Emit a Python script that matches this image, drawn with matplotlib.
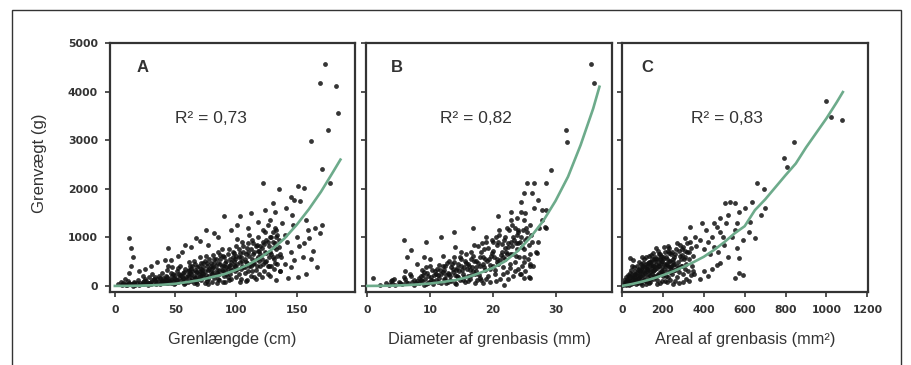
import numpy as np
import matplotlib.pyplot as plt
from matplotlib.patches import Rectangle

plt.rcParams['font.family'] = ['Liberation Sans', 'DejaVu Sans']

y_ticks = [0, 1000, 2000, 3000, 4000, 5000]

# A - grenlaengde (cm)
a_ticks = [0, 50, 100, 150]
a_fit_x = [0, 10, 20, 30, 40, 50, 60, 70, 80, 90, 100, 110, 120, 130, 140, 150, 160, 170, 180, 186]
a_fit_y = [0, 1, 5, 12, 25, 45, 80, 120, 180, 240, 330, 440, 580, 760, 980, 1260, 1580, 1940, 2350, 2600]
a_points = [
    (173, 4570), (169, 4170), (182, 4120), (184, 3560), (176, 3200), (162, 2980),
    (122, 2110), (135, 2000), (145, 1840), (148, 1760), (153, 1740), (151, 2060), (156, 2020),
    (177, 2120), (171, 2400), (169, 1090), (171, 1250), (167, 390), (159, 1150), (156, 885),
    (148, 535), (151, 185), (143, 165), (112, 1500), (124, 1560), (132, 1520), (90, 1430),
    (103, 1430), (101, 1255), (12, 980), (13, 775), (15, 605), (13, 400), (12, 260),
    (44, 780), (41, 535), (46, 535), (67, 990), (63, 800), (77, 845), (82, 1090),
    (138, 1300), (140, 1050), (142, 900), (145, 700), (147, 1250), (150, 1000), (152, 820),
    (155, 600), (158, 1350), (160, 980), (163, 720), (165, 1200), (140, 450), (136, 300),
    (145, 380), (162, 560), (158, 250), (137, 600), (133, 1150), (128, 1350), (126, 1250),
    (141, 1600), (146, 1450), (130, 1700), (118, 1320), (110, 1200), (96, 1150), (85, 1000),
    (75, 1150), (70, 920), (55, 700), (52, 620), (58, 850), (30, 420), (25, 350), (35, 500),
    (20, 300), (8, 150), (5, 80), (3, 30),
    (6, 10), (8, 40), (10, 20), (12, 60), (14, 30), (16, 90), (18, 50), (19, 120), (7, 70),
    (15, 5), (20, 20), (11, 100), (17, 15),
    (22, 40), (24, 110), (26, 60), (28, 180), (30, 90), (32, 150), (34, 30), (36, 210),
    (38, 120), (40, 70), (23, 200), (27, 20), (31, 250), (35, 80), (39, 260), (25, 140),
    (29, 50), (33, 190), (37, 40), (40, 170),
    (41, 90), (42, 200), (43, 320), (44, 50), (45, 150), (46, 260), (47, 380), (48, 110),
    (49, 30), (50, 220), (51, 300), (52, 80), (53, 170), (54, 410), (55, 120), (56, 260),
    (57, 40), (58, 340), (59, 190), (60, 90), (44, 420), (48, 250), (52, 360), (56, 160),
    (60, 300), (42, 130), (46, 70), (50, 140), (54, 230), (58, 60),
    (61, 200), (62, 420), (63, 110), (64, 300), (65, 520), (66, 160), (67, 80), (68, 380),
    (69, 250), (70, 600), (71, 130), (72, 330), (73, 470), (74, 60), (75, 220), (76, 400),
    (77, 150), (78, 560), (79, 280), (80, 90), (62, 260), (64, 170), (66, 450), (68, 40),
    (70, 310), (72, 200), (74, 510), (76, 100), (78, 350), (80, 240), (63, 350), (67, 290),
    (71, 480), (75, 620), (79, 420), (65, 60), (69, 140), (73, 250), (77, 30), (61, 500),
    (81, 380), (82, 170), (83, 560), (84, 270), (85, 700), (86, 120), (87, 450), (88, 320),
    (89, 620), (90, 200), (91, 80), (92, 520), (93, 350), (94, 760), (95, 250), (96, 140),
    (97, 600), (98, 430), (99, 300), (100, 820), (82, 480), (84, 60), (86, 330), (88, 760),
    (90, 410), (92, 250), (94, 130), (96, 500), (98, 680), (100, 180), (83, 220), (87, 640),
    (91, 300), (95, 430), (99, 560), (85, 150), (89, 90), (93, 190), (97, 350), (81, 630),
    (101, 450), (102, 250), (103, 680), (104, 150), (105, 900), (106, 380), (107, 550),
    (108, 100), (109, 780), (110, 300), (111, 620), (112, 200), (113, 950), (114, 450),
    (115, 700), (116, 330), (117, 560), (118, 1000), (119, 240), (120, 820), (102, 600),
    (104, 350), (106, 820), (108, 500), (110, 700), (112, 400), (114, 880), (116, 150),
    (118, 600), (120, 420), (103, 80), (107, 260), (111, 1050), (115, 180), (119, 720),
    (105, 520), (109, 120), (113, 300), (117, 850), (101, 960),
    (121, 550), (122, 900), (123, 300), (124, 1100), (125, 680), (126, 420), (127, 820),
    (128, 200), (129, 1000), (130, 600), (131, 350), (132, 1200), (133, 750), (134, 450),
    (135, 950), (136, 650), (122, 1150), (124, 500), (126, 250), (128, 700), (130, 900),
    (132, 480), (134, 1050), (136, 300), (121, 180), (125, 950), (129, 400), (133, 130),
    (127, 600), (131, 800),
    (9, 25), (13, 45), (16, 60), (21, 70), (23, 90), (26, 100), (28, 70), (31, 120), (33, 100),
    (35, 140), (37, 160), (39, 110), (41, 150), (43, 180), (45, 100), (47, 210), (49, 170),
    (51, 120), (53, 250), (55, 200), (57, 280), (59, 150), (61, 330), (62, 120), (63, 240),
    (64, 400), (65, 200), (66, 330), (67, 180), (68, 280), (69, 420), (70, 200), (71, 350),
    (72, 260), (73, 380), (74, 300), (75, 170), (76, 480), (77, 330), (78, 210), (79, 470),
    (80, 360), (81, 280), (82, 550), (83, 400), (84, 330), (85, 480), (86, 240), (87, 560),
    (88, 400), (89, 300), (90, 600), (91, 480), (92, 380), (93, 650), (94, 420), (95, 550),
    (96, 320), (97, 700), (98, 520), (99, 420), (100, 620), (101, 350), (102, 750), (103, 500),
    (104, 600), (105, 420), (106, 700), (107, 380), (108, 650), (109, 480), (110, 880),
    (111, 420), (112, 750), (113, 560), (114, 650), (115, 480), (116, 820), (117, 400),
    (118, 720), (119, 520), (120, 650), (121, 780), (122, 460), (123, 860), (124, 700),
    (125, 520), (126, 900), (127, 400), (128, 1000), (129, 650), (130, 1100), (131, 560),
    (132, 880), (133, 1000), (134, 620), (135, 800), (60, 230), (56, 90), (50, 60), (46, 130),
    (42, 60), (38, 80), (34, 60), (30, 30), (27, 55), (24, 30),
]

# B - diameter af grenbasis (mm)
b_ticks = [0, 10, 20, 30]
b_fit_x = [0, 2, 4, 6, 8, 10, 12, 14, 16, 18, 20, 22, 24, 26, 28, 30, 32, 34, 36, 37]
b_fit_y = [0, 2, 6, 15, 30, 50, 80, 120, 180, 270, 370, 510, 720, 1000, 1330, 1750, 2250, 2900, 3650, 4100]
b_points = [
    (35.7, 4570), (36.2, 4170), (31.6, 3210), (31.9, 2970), (29.3, 2390), (25.5, 2120),
    (26.6, 2120), (28.5, 2120), (25, 1910), (26.3, 1910), (24.5, 1735), (27.2, 1770),
    (28.5, 1560), (27.9, 1560), (22.9, 1530), (24.5, 1530), (20.8, 1430), (22.9, 1360),
    (27.4, 1190), (28.5, 1190), (16.8, 1190), (26.9, 705), (27.2, 910), (26.4, 400),
    (25.8, 190), (25, 160), (21.8, 20), (7, 740), (6.4, 600), (9.1, 600), (9.4, 910),
    (5.9, 945), (0.85, 160), (11.8, 1015), (13.9, 1120), (27.1, 670), (26, 160), (28.4, 1220),
    (23, 1250), (24, 1100), (25, 1350), (26, 1250), (22, 1000), (21, 1150), (20, 900),
    (19, 1000), (24, 880), (25, 600), (26, 450), (23.5, 300), (24.5, 250), (22.5, 150),
    (20.5, 100), (18.5, 60), (17, 850), (15, 700), (14, 800), (12, 620), (10, 550), (8, 450),
    (6, 300), (4, 120), (3, 60), (2, 20), (25.2, 1500), (23.8, 1400), (26.5, 1600),
    (27.8, 1350), (22.2, 1200),
    (3.5, 20), (4, 50), (4.5, 10), (5, 90), (5.5, 30), (6, 140), (6.5, 60), (7, 200),
    (7.5, 20), (8, 110), (4.2, 150), (5.8, 180), (7.2, 90), (3.8, 100), (6.8, 250),
    (8.2, 60), (8.5, 200), (8.8, 330), (9, 20), (9.2, 150), (9.5, 260), (9.8, 90), (10, 400),
    (10.2, 180), (10.5, 40), (10.8, 300), (11, 120), (11.2, 220), (11.5, 430), (11.8, 70),
    (12, 280), (8.6, 120), (9.4, 380), (10.4, 100), (11.4, 160), (9.6, 50), (10.9, 250),
    (11.6, 330), (8.9, 230),
    (12.2, 150), (12.4, 400), (12.6, 60), (12.8, 260), (13, 520), (13.2, 200), (13.4, 100),
    (13.6, 350), (13.8, 600), (14, 220), (14.2, 40), (14.4, 450), (14.6, 300), (14.8, 130),
    (15, 560), (15.2, 250), (15.4, 380), (15.6, 80), (15.8, 480), (16, 200), (12.3, 320),
    (12.9, 90), (13.5, 450), (14.1, 330), (14.7, 600), (15.3, 120), (15.9, 350), (13.1, 250),
    (14.5, 180), (15.7, 650),
    (16.2, 420), (16.4, 150), (16.6, 700), (16.8, 300), (17, 520), (17.2, 60), (17.4, 380),
    (17.6, 820), (17.8, 230), (18, 600), (18.2, 120), (18.4, 460), (18.6, 750), (18.8, 330),
    (19, 900), (19.2, 200), (19.4, 550), (19.6, 80), (19.8, 680), (20, 400), (16.5, 560),
    (17.1, 250), (17.7, 480), (18.3, 880), (18.9, 150), (19.5, 350), (16.3, 330), (17.5, 130),
    (18.7, 560), (19.9, 940),
    (20.2, 600), (20.4, 250), (20.6, 850), (20.8, 450), (21, 1050), (21.2, 150), (21.4, 700),
    (21.6, 380), (21.8, 950), (22, 550), (22.2, 280), (22.4, 800), (22.6, 1150), (22.8, 450),
    (23, 650), (23.2, 200), (23.4, 950), (23.6, 500), (23.8, 760), (24, 350), (20.5, 1000),
    (21.1, 530), (21.7, 240), (22.3, 650), (22.9, 900), (23.5, 1200), (20.3, 330), (21.5, 860),
    (22.7, 370), (23.9, 1050),
    (24.2, 600), (24.4, 900), (24.6, 420), (24.8, 1150), (25, 750), (25.2, 300), (25.4, 980),
    (25.6, 550), (25.8, 850), (26, 650), (24.3, 250), (24.9, 500), (25.5, 1100), (25.9, 400),
    (5.2, 60), (6.2, 80), (7.4, 130), (8.3, 170), (9.1, 280), (9.7, 200), (10.3, 320),
    (10.7, 220), (11.1, 350), (11.7, 250), (12.1, 400), (12.5, 230), (12.7, 480), (13.3, 380),
    (13.7, 280), (13.9, 500), (14.3, 360), (14.9, 420), (15.1, 330), (15.5, 520), (16.1, 450),
    (16.7, 380), (16.9, 620), (17.3, 520), (17.9, 420), (18.1, 700), (18.5, 600), (19.1, 520),
    (19.3, 780), (19.7, 620), (20.1, 720), (20.7, 560), (20.9, 900), (21.3, 640), (21.9, 780),
    (22.1, 700), (22.5, 880), (23.1, 820), (23.3, 1000), (23.7, 880), (24.1, 1150),
    (24.5, 1000), (24.7, 800), (25.1, 950), (25.3, 1200), (26.1, 1050), (26.3, 900),
    (8.7, 100), (7.8, 60), (9.3, 30), (10.1, 130), (11.3, 80), (12.4, 150), (13.2, 130),
    (14.3, 200), (15.4, 180), (16.6, 230), (17.4, 300), (18.6, 380), (19.5, 440), (20.6, 500),
    (21.6, 600), (22.8, 650), (23.7, 620), (17.9, 170), (16.0, 110), (14.0, 60),
]

# C - areal af grenbasis (mm2)
c_ticks = [0, 200, 400, 600, 800, 1000, 1200]
c_fit_x = [0, 50, 100, 150, 200, 250, 300, 350, 400, 450, 500, 550, 600, 650, 700, 750, 800, 850, 900, 950, 1000, 1050, 1080]
c_fit_y = [0, 40, 90, 150, 220, 300, 390, 490, 600, 740, 900, 1080, 1230, 1560, 1780, 2030, 2280, 2520, 2850, 3150, 3450, 3780, 3990]
c_points = [
    (999, 3810), (1022, 3480), (1076, 3420), (842, 2970), (790, 2630), (806, 2450),
    (692, 2000), (660, 2110), (529, 1735), (504, 1710), (553, 1710), (635, 1735), (627, 1320),
    (570, 1530), (562, 1290), (553, 1150), (651, 980), (594, 945), (333, 1220), (357, 1015),
    (308, 980), (464, 1220), (480, 1120), (496, 1015), (562, 775), (570, 570), (570, 260),
    (594, 225), (553, 160), (480, 465), (464, 430), (39, 570), (55, 535), (47, 400),
    (420, 900), (440, 1000), (450, 800), (400, 750), (380, 950), (360, 820), (430, 650),
    (470, 700), (500, 850), (520, 600), (540, 1000), (510, 1300), (480, 1400), (450, 1300),
    (410, 1150), (390, 1300), (440, 350), (400, 300), (420, 200), (380, 150), (350, 250),
    (330, 100), (300, 80), (280, 50), (250, 30), (520, 1450), (600, 1600), (620, 1100),
    (680, 1450), (700, 1600),
    (5, 10), (10, 40), (15, 90), (20, 20), (25, 150), (30, 60), (35, 200), (40, 110), (45, 30),
    (50, 250), (55, 170), (60, 80), (65, 300), (70, 140), (75, 220), (80, 50), (12, 120),
    (28, 230), (42, 320), (58, 380), (72, 420), (18, 180), (33, 10), (48, 160), (68, 30),
    (78, 330), (62, 240), (38, 270),
    (82, 160), (86, 300), (90, 80), (94, 450), (98, 220), (102, 380), (106, 120), (110, 550),
    (114, 260), (118, 40), (122, 420), (126, 180), (130, 620), (134, 320), (138, 90),
    (142, 500), (146, 240), (150, 680), (154, 140), (158, 400), (84, 500), (92, 350),
    (100, 20), (108, 280), (116, 600), (124, 340), (132, 60), (140, 450), (148, 380),
    (156, 550), (88, 200), (96, 600), (104, 480), (112, 120), (120, 300), (128, 470),
    (136, 220), (144, 640), (152, 300), (160, 180),
    (163, 350), (167, 560), (171, 120), (175, 720), (179, 260), (183, 480), (187, 60),
    (191, 620), (195, 380), (199, 200), (203, 800), (207, 450), (211, 100), (215, 600),
    (219, 300), (223, 720), (227, 180), (231, 520), (235, 380), (239, 650), (243, 250),
    (247, 430), (165, 780), (177, 420), (189, 300), (201, 560), (213, 420), (225, 820),
    (237, 130), (249, 560), (170, 220), (182, 660), (194, 520), (206, 250), (218, 460),
    (230, 680), (242, 340), (173, 30), (197, 100), (221, 80),
    (252, 600), (258, 320), (264, 750), (270, 180), (276, 500), (282, 850), (288, 400),
    (294, 640), (300, 250), (306, 720), (312, 450), (318, 880), (324, 300), (330, 560),
    (336, 780), (342, 420), (348, 620), (255, 450), (267, 880), (279, 280), (291, 760),
    (303, 550), (315, 150), (327, 700), (339, 230), (261, 100), (285, 620), (309, 350),
    (333, 900), (345, 300),
    (20, 60), (30, 130), (38, 50), (45, 180), (52, 90), (58, 220), (65, 120), (72, 260),
    (78, 160), (85, 350), (90, 250), (95, 150), (100, 400), (105, 300), (110, 200), (115, 450),
    (120, 350), (125, 250), (130, 500), (135, 400), (140, 300), (145, 560), (150, 420),
    (155, 330), (160, 600), (165, 460), (170, 360), (175, 560), (180, 400), (185, 650),
    (190, 480), (195, 300), (200, 600), (205, 350), (210, 700), (215, 450), (220, 560),
    (225, 400), (230, 780), (235, 520), (240, 420), (245, 700), (250, 500), (260, 650),
    (270, 420), (280, 720), (290, 560), (300, 800), (310, 600), (320, 700), (15, 30), (25, 80),
    (35, 100), (55, 60), (75, 90), (95, 70), (115, 110), (135, 150), (155, 200), (175, 230),
    (195, 260), (215, 200), (235, 280), (255, 320), (275, 360), (295, 420), (62, 180),
    (88, 300), (112, 380), (138, 500), (162, 520), (188, 550),
]

dark = '#333333'
green = '#6dab8b'


def draw_panel(ax, pts, fit_x, fit_y, xticks, xlim, xlabel, letter, r2, letter_x, r2_x, ylabels):
    pts = np.array(pts)
    ax.scatter(pts[:, 0], pts[:, 1], s=12, color='#111111', alpha=0.85, linewidths=0, zorder=2)
    ax.plot(fit_x, fit_y, color=green, lw=1.9, zorder=3)
    ax.set_xlim(xlim)
    ax.set_ylim(-125, 5000)
    ax.set_xticks(xticks)
    ax.set_yticks(y_ticks)
    if not ylabels:
        ax.set_yticklabels([])
    for sp in ax.spines.values():
        sp.set_linewidth(1.6)
        sp.set_color(dark)
    ax.tick_params(direction='out', length=3.6, width=1.2, color=dark, labelcolor=dark)
    ax.tick_params(axis='x', pad=6)
    ax.tick_params(axis='y', pad=5)
    for lab in ax.get_xticklabels() + ax.get_yticklabels():
        lab.set_fontfamily('DejaVu Sans')
        lab.set_fontweight('bold')
        lab.set_fontsize(7.8)
    ax.set_xlabel(xlabel, fontsize=11.8, color=dark)
    ax.xaxis.set_label_coords(0.5, -0.16)
    ax.text(letter_x, 0.90, letter, transform=ax.transAxes, fontsize=12, fontweight='bold',
            color=dark, ha='left', va='center')
    ax.text(r2_x, 0.695, 'R² = ' + r2, transform=ax.transAxes, fontsize=12.5,
            color=dark, ha='center', va='center')


fig = plt.figure(figsize=(9.11, 3.65), dpi=100)
fig.patches.append(Rectangle((12 / 911, -0.05), 889 / 911, 1.05 - 10 / 365,
                             transform=fig.transFigure, fill=False, edgecolor=dark, lw=1.0))

ax_a = fig.add_axes([110 / 911, 73 / 365, 245 / 911, 249 / 365])
ax_b = fig.add_axes([366 / 911, 73 / 365, 246 / 911, 249 / 365])
ax_c = fig.add_axes([622 / 911, 73 / 365, 246 / 911, 249 / 365])

draw_panel(ax_a, a_points, a_fit_x, a_fit_y, a_ticks, (-4, 198), 'Grenlængde (cm)', 'A', '0,73', 0.11, 0.412, True)
draw_panel(ax_b, b_points, b_fit_x, b_fit_y, b_ticks, (-0.2, 39), 'Diameter af grenbasis (mm)', 'B', '0,82', 0.10, 0.445, False)
draw_panel(ax_c, c_points, c_fit_x, c_fit_y, c_ticks, (0, 1203), 'Areal af grenbasis (mm²)', 'C', '0,83', 0.08, 0.425, False)

ax_a.set_ylabel('Grenvægt (g)', fontsize=12, color=dark)
ax_a.yaxis.set_label_coords(-0.257, 0.518)

fig.savefig('out.png', dpi=100)
